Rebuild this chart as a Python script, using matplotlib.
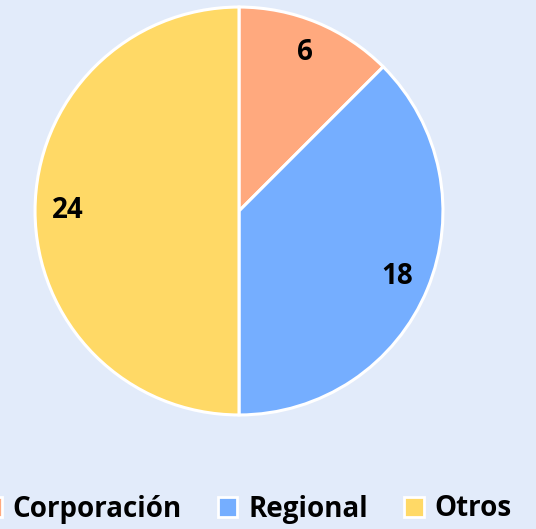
import matplotlib
matplotlib.use('Agg')
import matplotlib.pyplot as plt
from matplotlib.patches import Patch

labels = ['Corporación', 'Regional', 'Otros']
values = [6, 18, 24]
colors = ['#FFA97E', '#75AEFF', '#FFD966']
bg = '#E2EBFA'

plt.rcParams['font.family'] = ['Open Sans', 'DejaVu Sans']

fig = plt.figure(figsize=(5.36, 5.29), dpi=100, facecolor=bg)
# pie centre ~ (239, 211) px, radius ~206 px
ax = fig.add_axes([(239 - 206) / 536, 1 - (211 + 206) / 529, 412 / 536, 412 / 529])
ax.set_facecolor(bg)

wedges, _, autotexts = ax.pie(
    values, colors=colors, startangle=90, counterclock=False,
    autopct=lambda p: f'{round(p * sum(values) / 100):d}', pctdistance=0.84,
    wedgeprops=dict(edgecolor='white', linewidth=2.2),
    textprops=dict(fontsize=20, fontweight='bold', color='black'))
ax.set_xlim(-1.01, 1.01)
ax.set_ylim(-1.01, 1.01)
ax.set_aspect('equal')

handles = [Patch(facecolor=c, edgecolor='white', linewidth=2) for c in colors]
leg = fig.legend(handles, labels, loc='center right', bbox_to_anchor=(512 / 536, 1 - 509 / 529),
                 ncol=3, frameon=False, prop=dict(size=20, weight='bold'),
                 handlelength=0.7, handleheight=0.7, handletextpad=0.4, columnspacing=1.3,
                 borderaxespad=0, borderpad=0)

fig.savefig('out.png', dpi=100, facecolor=bg)
